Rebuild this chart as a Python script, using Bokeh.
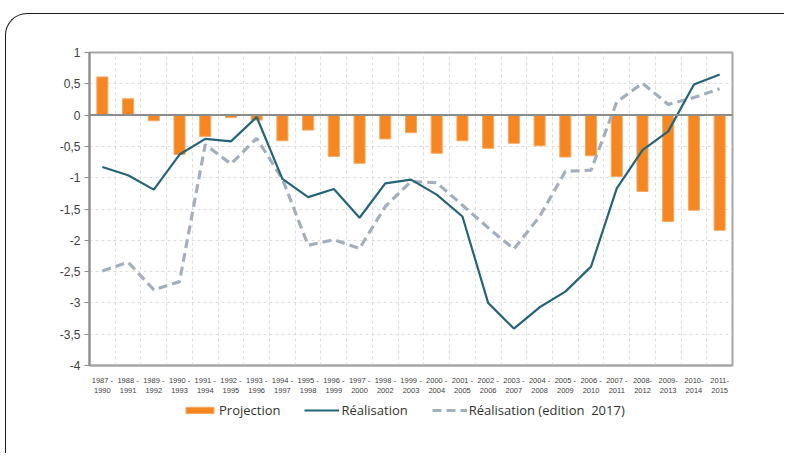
from bokeh.plotting import figure
from bokeh.layouts import column
from bokeh.models import (Range1d, FixedTicker, Span, Legend, LegendItem, ColumnDataSource,
                          InlineStyleSheet)
from bokeh.embed import file_html
from bokeh.resources import INLINE

periods = ["1987 -\n1990", "1988 -\n1991", "1989 -\n1992", "1990 -\n1993", "1991 -\n1994",
           "1992 -\n1995", "1993 -\n1996", "1994 -\n1997", "1995 -\n1998", "1996 -\n1999",
           "1997 -\n2000", "1998 -\n2002", "1999 -\n2003", "2000 -\n2004", "2001 -\n2005",
           "2002 -\n2006", "2003 -\n2007", "2004 -\n2008", "2005 -\n2009", "2006 -\n2010",
           "2007 -\n2011", "2008-\n2012", "2009-\n2013", "2010-\n2014", "2011-\n2015"]

projection = [0.61, 0.26, -0.09, -0.63, -0.34, -0.04, -0.08, -0.41, -0.24, -0.66,
              -0.77, -0.38, -0.28, -0.61, -0.41, -0.53, -0.45, -0.49, -0.67, -0.65,
              -0.98, -1.22, -1.70, -1.52, -1.84]

realisation = [-0.83, -0.96, -1.19, -0.63, -0.38, -0.42, -0.03, -1.02, -1.31, -1.18,
               -1.64, -1.09, -1.03, -1.27, -1.62, -3.00, -3.41, -3.07, -2.82, -2.42,
               -1.17, -0.56, -0.26, 0.49, 0.65]

realisation_2017 = [-2.49, -2.35, -2.79, -2.66, -0.47, -0.78, -0.37, -1.02, -2.08, -1.99,
                    -2.13, -1.46, -1.06, -1.08, -1.44, -1.80, -2.14, -1.62, -0.90, -0.88,
                    0.21, 0.51, 0.17, 0.28, 0.42]

y_ticks = [1, 0.5, 0, -0.5, -1, -1.5, -2, -2.5, -3, -3.5, -4]
y_labels = ["1", "0,5", "0", "-0,5", "-1", "-1,5", "-2", "-2,5", "-3", "-3,5", "-4"]

series_names = ["Projection", "Réalisation", "Réalisation (edition  2017)"]

BAR_STYLE = dict(fill_color="#F48721", line_color="#F7A864", line_width=1)
REAL_STYLE = dict(line_color="#266479", line_width=2.2)
R17_STYLE = dict(line_color="#A3AFBD", line_width=3.2, line_dash="9 5")

idx = list(range(len(periods)))
src = ColumnDataSource(dict(x=idx, proj=projection, real=realisation, real17=realisation_2017))

p = figure(width=786, height=398, output_backend="svg", toolbar_location=None,
           x_range=Range1d(-0.5, len(periods) - 0.5), y_range=Range1d(-4, 1),
           min_border_left=89, min_border_right=54, min_border_top=52, min_border_bottom=27)

p.outline_line_color = "#a6a6a6"
p.outline_line_width = 2
p.background_fill_color = "white"
p.border_fill_color = "white"

# grids
p.xgrid.ticker = FixedTicker(ticks=[i - 0.5 for i in idx] + [len(periods) - 0.5])
p.xgrid.grid_line_color = "#dcdcdc"
p.xgrid.grid_line_dash = "3 3"
p.ygrid.ticker = FixedTicker(ticks=y_ticks)
p.ygrid.grid_line_color = "#dcdcdc"
p.ygrid.grid_line_dash = "3 3"

# y axis
p.yaxis.ticker = FixedTicker(ticks=y_ticks)
p.yaxis.major_label_overrides = {t: l for t, l in zip(y_ticks, y_labels)}
p.yaxis.axis_line_color = "#8c8c8c"
p.yaxis.axis_line_width = 2
p.yaxis.major_tick_line_color = "#8c8c8c"
p.yaxis.major_tick_out = 5
p.yaxis.major_tick_in = 0
p.yaxis.minor_tick_line_color = None
p.yaxis.major_label_text_font = "Liberation Sans"
p.yaxis.major_label_text_font_size = "12px"
p.yaxis.major_label_text_color = "#404040"
p.yaxis.major_label_standoff = 4

# x axis
p.xaxis.ticker = FixedTicker(ticks=idx)
p.xaxis.major_label_overrides = {i: l for i, l in zip(idx, periods)}
p.xaxis.axis_line_color = "#a6a6a6"
p.xaxis.axis_line_width = 2
p.xaxis.major_tick_line_color = None
p.xaxis.minor_tick_line_color = None
p.xaxis.major_label_text_font = "Liberation Sans"
p.xaxis.major_label_text_font_size = "7.5px"
p.xaxis.major_label_text_color = "#404040"
p.xaxis.major_label_standoff = 4

p.vbar(x="x", top="proj", bottom=0, width=0.43, source=src, **BAR_STYLE)
p.add_layout(Span(location=0, dimension="width", line_color="#8c8c8c", line_width=2))
p.line(x="x", y="real17", source=src, **R17_STYLE)
p.line(x="x", y="real", source=src, **REAL_STYLE)

# legend in its own strip below the chart (renderers hold no drawable data, only styles)
lf = figure(width=786, height=57, output_backend="svg", toolbar_location=None,
            x_range=Range1d(0, 1), y_range=Range1d(0, 1),
            x_axis_location=None, y_axis_location=None,
            min_border=0, min_border_left=0, min_border_right=0,
            min_border_top=0, min_border_bottom=0)
lf.outline_line_color = None
lf.xgrid.visible = False
lf.ygrid.visible = False
lf.border_fill_color = "white"
nan = float("nan")
placeholder = ColumnDataSource(dict(x=[nan], y=[nan], top=[nan]))
r_bar = lf.vbar(x="x", top="top", width=0.5, source=placeholder, **BAR_STYLE)
r_real = lf.line(x="x", y="y", source=placeholder, **REAL_STYLE)
r_17 = lf.line(x="x", y="y", source=placeholder, **R17_STYLE)

legend = Legend(items=[LegendItem(label=series_names[0], renderers=[r_bar]),
                       LegendItem(label=series_names[1], renderers=[r_real]),
                       LegendItem(label=series_names[2], renderers=[r_17])],
                orientation="horizontal", location=(93, 36),
                glyph_width=35, glyph_height=8, label_standoff=2, spacing=24,
                label_text_font="Open Sans", label_text_font_size="13px",
                label_text_color="#333333", border_line_color=None,
                padding=0, margin=0, background_fill_alpha=0)
lf.add_layout(legend, "center")

frame_css = InlineStyleSheet(css="""
:host { position: relative; }
:host::after {
  content: "";
  position: absolute;
  left: 5px;
  top: 13px;
  width: 779px;
  height: 440px;
  border-top: 1.5px solid #1a1a1a;
  border-left: 1.5px solid #1a1a1a;
  border-top-left-radius: 22px;
  pointer-events: none;
  box-sizing: border-box;
}
""")
layout = column(p, lf, spacing=0)
layout.stylesheets = [frame_css]

open("out.html", "w").write(file_html(layout, INLINE))
